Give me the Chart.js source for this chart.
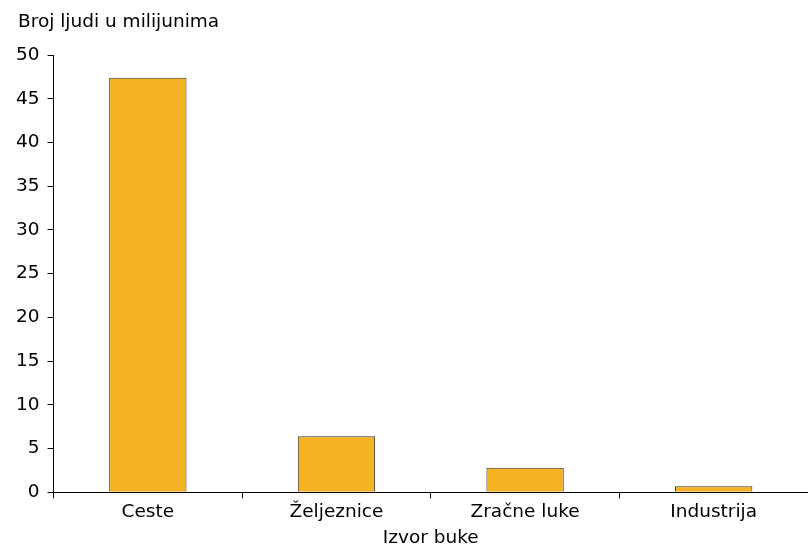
<!DOCTYPE html>
<html>
<head>
<meta charset="utf-8">
<script src="https://cdn.jsdelivr.net/npm/chart.js@4"></script>
<style>
html,body{margin:0;padding:0;background:#fff;}
#wrap{width:808px;height:547px;position:relative;}
</style>
</head>
<body>
<div id="wrap"><canvas id="c" width="808" height="547"></canvas></div>
<script>
const categories = ["Ceste", "Željeznice", "Zračne luke", "Industrija"];
const values = [47.4, 6.4, 2.8, 0.7];
const yTitle = "Broj ljudi u milijunima";
const xTitle = "Izvor buke";

const FONT = "'DejaVu Sans', Verdana, sans-serif";
const FS = 18.5;
Chart.defaults.font.family = FONT;
Chart.defaults.font.size = FS;
Chart.defaults.color = "#000";

const topTitle = {
  id: "topTitle",
  afterDraw(chart) {
    const ctx = chart.ctx;
    ctx.save();
    ctx.font = FS + "px " + FONT;
    ctx.fillStyle = "#000";
    ctx.textAlign = "left";
    ctx.textBaseline = "alphabetic";
    ctx.fillText(yTitle, 18, 27);
    ctx.restore();
  }
};

new Chart(document.getElementById("c"), {
  type: "bar",
  data: {
    labels: categories,
    datasets: [{
      data: values,
      backgroundColor: "#F5B324",
      borderColor: "#333333",
      borderWidth: 1,
      borderSkipped: "bottom",
      categoryPercentage: 1,
      barPercentage: 0.41
    }]
  },
  options: {
    responsive: false,
    animation: false,
    devicePixelRatio: 1,
    layout: { padding: { left: 8, right: 0, top: 55, bottom: 0 } },
    plugins: {
      legend: { display: false },
      tooltip: { enabled: false },
      title: { display: false }
    },
    scales: {
      x: {
        grid: { display: true, drawOnChartArea: false, drawTicks: true, tickLength: 6, color: "#000", offset: true },
        border: { display: true, color: "#000", width: 1 },
        ticks: { font: { size: FS, family: FONT }, color: "#000", padding: 3 },
        title: { display: true, text: xTitle, font: { size: FS, family: FONT, lineHeight: 1 }, color: "#000", padding: { top: 2, bottom: 0 } }
      },
      y: {
        min: 0, max: 50,
        grid: { display: true, drawOnChartArea: false, drawTicks: true, tickLength: 6, color: "#000" },
        border: { display: true, color: "#000", width: 1 },
        ticks: { stepSize: 5, font: { size: FS, family: FONT }, color: "#000", padding: 8 }
      }
    }
  },
  plugins: [topTitle]
});
</script>
</body>
</html>
